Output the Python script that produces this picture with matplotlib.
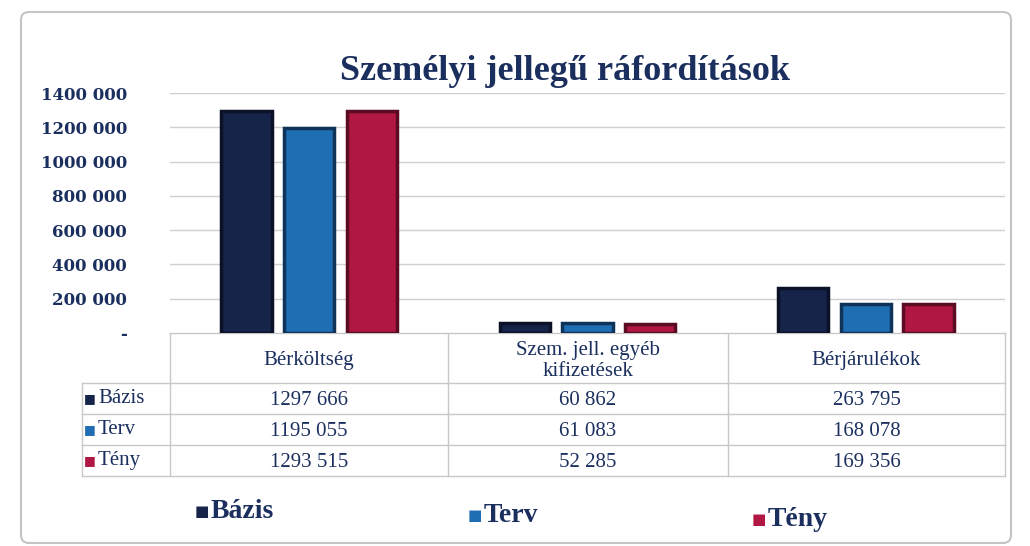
import numpy as np
import matplotlib.pyplot as plt
import matplotlib.patches as patches

# ---- data ----
categories = ["Bérköltség", "Szem. jell. egyéb\nkifizetések", "Bérjárulékok"]
series = ["Bázis", "Terv", "Tény"]
bazis = [1297666, 60862, 263795]
terv = [1195055, 61083, 168078]
teny = [1293515, 52285, 169356]
values = [bazis, terv, teny]
yticks = [0, 200000, 400000, 600000, 800000, 1000000, 1200000, 1400000]
ytick_labels = ["-", "200 000", "400 000", "600 000", "800 000",
                "1000 000", "1200 000", "1400 000"]
cell_text = [["1297 666", "60 862", "263 795"],
             ["1195 055", "61 083", "168 078"],
             ["1293 515", "52 285", "169 356"]]

colors = ["#16244a", "#1f6db3", "#b01843"]
edges = ["#0b1228", "#0f3358", "#5a0c22"]
navy = "#1b2f5e"
grid_c = "#d0d0d0"

W, H = 1030, 546
fig = plt.figure(figsize=(W / 100, H / 100), dpi=100)

# overlay in pixel coordinates (title, table, legend, frame)
over = fig.add_axes([0, 0, 1, 1])
over.set_xlim(0, W)
over.set_ylim(H, 0)
over.axis("off")

frame = patches.FancyBboxPatch((21, 12), 990, 531, boxstyle="round,pad=0,rounding_size=8",
                               linewidth=1.5, edgecolor="#c4c4c4", facecolor="none")
over.add_patch(frame)

over.text(565, 72, "Személyi jellegű ráfordítások", ha="center", va="center",
          fontsize=26, fontweight="bold", family="Liberation Serif", color=navy)

# ---- bar chart ----
x0, x1, ytop, ybot = 170, 1005, 93, 333
ax = fig.add_axes([x0 / W, 1 - ybot / H, (x1 - x0) / W, (ybot - ytop) / H])
x = np.arange(len(categories))
bw = 0.18
offs = [-0.225, 0, 0.225]
for i, s in enumerate(series):
    ax.bar(x + offs[i], values[i], bw, color=colors[i], edgecolor=edges[i],
           linewidth=2.5, zorder=3)
ax.set_xlim(-0.5, 2.5)
ax.set_ylim(0, 1400000)
ax.set_yticks(yticks)
ax.set_yticklabels(ytick_labels, family="DejaVu Serif", fontweight="bold",
                   fontsize=12, color=navy)
ax.tick_params(axis="y", length=0, pad=31)
ax.set_xticks([])
ax.grid(axis="y", color=grid_c, linewidth=1, zorder=0)
for sp in ax.spines.values():
    sp.set_visible(False)

# ---- data table ----
col_edges = [170, 448, 728, 1005]
row_edges = [333, 383, 414, 445, 476]
lc = "#c8c8c8"
for xe in col_edges:
    over.plot([xe, xe], [row_edges[0], row_edges[-1]], color=lc, lw=1)
over.plot([82, 82], [row_edges[1], row_edges[-1]], color=lc, lw=1)
over.plot([170, 1005], [row_edges[0], row_edges[0]], color=lc, lw=1)
for ye in row_edges[1:]:
    over.plot([82, 1005], [ye, ye], color=lc, lw=1)

tfs = 15
for j, c in enumerate(categories):
    cx = (col_edges[j] + col_edges[j + 1]) / 2
    over.text(cx, (row_edges[0] + row_edges[1]) / 2 + 3, c, ha="center", va="center",
              fontsize=tfs, family="Liberation Serif", color=navy, linespacing=1.15)

for i, s in enumerate(series):
    cy = (row_edges[i + 1] + row_edges[i + 2]) / 2
    over.text(84, cy, "■", ha="left", va="center", fontsize=9,
              family="DejaVu Sans", color=colors[i])
    over.text(98, cy, s, ha="left", va="center", fontsize=tfs,
              family="Liberation Serif", color=navy)
    for j in range(len(categories)):
        cx = (col_edges[j] + col_edges[j + 1]) / 2
        over.text(cx, cy + 2, cell_text[i][j], ha="center", va="center",
                  fontsize=tfs, family="Liberation Serif", color=navy)

# ---- legend ----
leg_x = [195, 468, 752]
leg_y = [511, 516, 520]
for i, s in enumerate(series):
    over.text(leg_x[i], leg_y[i], "■", ha="left", va="center", fontsize=11,
              family="DejaVu Sans", color=colors[i])
    over.text(leg_x[i] + 16, leg_y[i], s, ha="left", va="center", fontsize=20,
              fontweight="bold", family="Liberation Serif", color=navy)

fig.savefig("out.png", dpi=100)
